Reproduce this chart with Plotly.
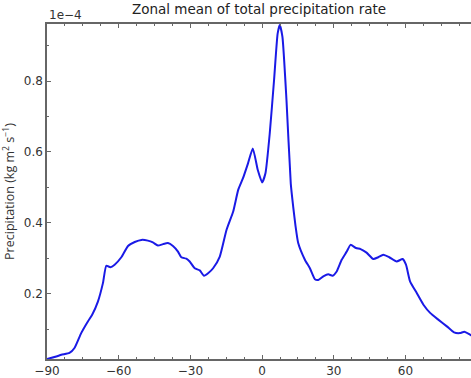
import plotly.graph_objects as go

# latitude (degrees) and zonal-mean precipitation (units of 1e-4 kg m^2 s^-1)
lat = [-90, -86.1, -84.0, -80.6, -78.5, -75.7, -72.9, -71.1, -68.7, -66.6, -65.2,
       -63.5, -61.7, -58.9, -56.1, -53.3, -50.5, -47.8, -45.7, -43.6, -41.5,
       -39.4, -37.3, -35.2, -33.8, -31.7, -30.3, -28.2, -26.1, -24.3, -22.6,
       -20.5, -17.7, -14.9, -12.1, -10.0, -8.0, -5.9, -3.9, -1.8, 0.0, 1.4,
       3.2, 5.0, 6.5, 7.4, 8.5, 10.2, 12.0, 13.0, 14.0, 15.1, 17.9, 20.0, 22.1,
       23.5, 25.6, 27.7, 29.5, 31.2, 33.3, 35.4, 37.0, 39.3, 41.2, 43.7, 46.5,
       48.6, 50.7, 53.2, 56.3, 58.8, 60.2, 61.9, 64.7, 67.5, 70.3, 73.7, 77.3,
       80.3, 82.8, 84.6, 87.4, 88.5]
precip = [0.016, 0.023, 0.028, 0.033, 0.047, 0.089, 0.122, 0.141, 0.178, 0.230, 0.279,
          0.275, 0.282, 0.303, 0.335, 0.346, 0.352, 0.350, 0.345, 0.336, 0.340,
          0.343, 0.335, 0.319, 0.303, 0.299, 0.291, 0.272, 0.266, 0.251, 0.258,
          0.272, 0.305, 0.380, 0.432, 0.493, 0.526, 0.568, 0.610, 0.549, 0.514, 0.540,
          0.653, 0.803, 0.934, 0.958, 0.925, 0.746, 0.510, 0.446, 0.390, 0.343, 0.296, 0.272, 0.241,
          0.239, 0.249, 0.255, 0.251, 0.263, 0.296, 0.319, 0.338, 0.329, 0.326, 0.316, 0.298,
          0.303, 0.310, 0.303, 0.291, 0.298, 0.282, 0.235, 0.202, 0.169, 0.146, 0.127, 0.108,
          0.091, 0.089, 0.093, 0.083, 0.080]

x_ticks = [-90, -60, -30, 0, 30, 60]
x_ticklabels = ["\u221290", "\u221260", "\u221230", "0", "30", "60"]
y_ticks = [0.2, 0.4, 0.6, 0.8]
y_ticklabels = ["0.2", "0.4", "0.6", "0.8"]

font = "DejaVu Sans, sans-serif"
axcol = "#666666"

fig = go.Figure()
fig.add_trace(go.Scatter(x=lat, y=precip, mode="lines",
                         line=dict(color="#1a1ae6", width=2, shape="spline", smoothing=0.5),
                         hoverinfo="skip"))

fig.update_layout(
    width=471, height=378,
    margin=dict(l=47, r=0, t=24, b=19),
    paper_bgcolor="white", plot_bgcolor="white",
    showlegend=False,
    font=dict(family=font, size=12, color="#333333"),
    title=dict(text="Zonal mean of total precipitation rate", x=0.5, xref="paper",
               y=1, yref="container", yanchor="top", pad=dict(t=5),
               font=dict(family=font, size=13.5, color="#222222")),
    xaxis=dict(range=[-90, 87.4], tickvals=x_ticks, ticktext=x_ticklabels,
               ticks="inside", ticklen=4, tickcolor=axcol, tickwidth=1,
               showline=True, linecolor=axcol, linewidth=1.5, mirror="ticks",
               showgrid=False, zeroline=False,
               minor=dict(dtick=7.5, tick0=-90, ticks="inside", ticklen=2, tickcolor=axcol),
               tickfont=dict(size=12)),
    yaxis=dict(range=[0.016, 0.961], tickvals=y_ticks, ticktext=y_ticklabels,
               ticks="inside", ticklen=4, tickcolor=axcol, tickwidth=1,
               showline=True, linecolor=axcol, linewidth=1.5,
               showgrid=False, zeroline=False,
               minor=dict(dtick=0.1, tick0=0, ticks="inside", ticklen=2, tickcolor=axcol),
               tickfont=dict(size=12),
               title=dict(text="Precipitation (kg m<sup>2</sup> s<sup>\u22121</sup>)",
                          font=dict(family="Open Sans, sans-serif", size=12.5, color="#333333"),
                          standoff=8)),
    annotations=[dict(text="1e\u22124", x=0, xref="paper", y=1, yref="paper",
                      xanchor="left", yanchor="bottom", showarrow=False, yshift=0,
                      font=dict(family=font, size=12, color="#333333"))],
)

fig.write_html("out.html")
